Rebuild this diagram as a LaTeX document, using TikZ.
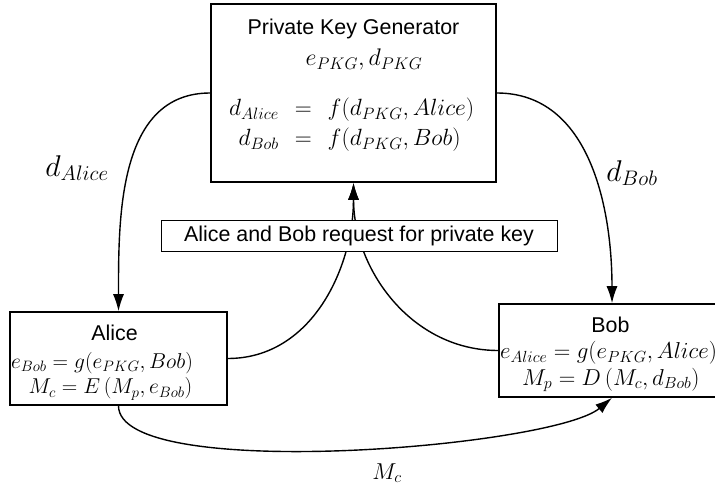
\RequirePackage{fix-cm}
\documentclass[tikz,border=0pt]{standalone}
\usepackage{fontspec}
\setmainfont{Liberation Sans}
\usetikzlibrary{arrows.meta}
\tikzset{
  box/.style={draw, line width=1.6pt, inner sep=0pt},
  reqbox/.style={draw, fill=white, line width=0.9pt, inner sep=0pt, minimum width=396pt, minimum height=31pt},
  txt/.style={inner sep=0pt, font=\fontsize{21.4}{25}\selectfont},
  mtxt/.style={inner sep=0pt, font=\fontsize{21.5}{25}\selectfont},
  bmtxt/.style={inner sep=0pt, font=\fontsize{23}{27}\selectfont},
  pmtxt/.style={inner sep=0pt, font=\fontsize{24}{30}\selectfont},
  biglbl/.style={inner sep=0pt, font=\fontsize{30}{34}\selectfont},
  conn/.style={line width=1.4pt, -{Latex[length=17pt,width=11pt]}}
}
\begin{document}
\begin{tikzpicture}[x=1pt,y=1pt]
\useasboundingbox (0,0) rectangle (715,487);
% boxes
\node[box, minimum width=285pt, minimum height=178pt] (pkg) at (353.5,394) {};
\node[box, minimum width=217pt, minimum height=93pt] (alice) at (118.5,128.5) {};
\node[box, minimum width=226pt, minimum height=93pt] (bob) at (612,136.5) {};
% texts in PKG
\node[txt] (pkgtitle) at (353.5,458) {Private Key Generator};
\node[pmtxt] (pkgkeys) at (364,427) {$e_{PKG},d_{PKG}$};
\node[pmtxt, font=\fontsize{23.5}{30}\selectfont, anchor=west] (pkgeq) at (229,362) {$\setlength{\arraycolsep}{8pt}\begin{array}{@{}rcl@{}} d_{Alice} & = & f(d_{PKG},Alice)\\ d_{Bob} & = & f(d_{PKG},Bob)\end{array}$};
% texts in Alice
\node[txt] (alicetitle) at (114.5,154) {Alice};
\node[mtxt, anchor=west] (aliceeq1) at (11,124) {$e_{Bob}=g(e_{PKG},Bob)$};
\node[mtxt, anchor=west] (aliceeq2) at (28.5,98) {$M_c=E\left(M_p,e_{Bob}\right)$};
% texts in Bob
\node[txt] (bobtitle) at (610.5,162) {Bob};
\node[bmtxt, anchor=west] (bobeq1) at (500,134) {$e_{Alice}=g(e_{PKG},Alice)$};
\node[bmtxt, anchor=west] (bobeq2) at (522,107) {$M_p=D\left(M_c,d_{Bob}\right)$};
% connectors
\draw[conn] (pkg.west) to[out=180,in=90] (alice.north);
\draw[conn] (pkg.east) to[out=0,in=90] (bob.north);
\draw[conn] (alice.east) to[out=0,in=-90] (pkg.south);
\draw[conn] (bob.west) to[out=180,in=-90] (pkg.south);
\draw[conn] (alice.south) to[out=-90,in=-140,looseness=0.4] (bob.south);
% request box on top
\node[reqbox, txt] (req) at (359,251.5) {Alice and Bob request for private key};
% labels
\node[biglbl] (lalice) at (77,319) {$d_{Alice}$};
\node[biglbl] (lbob) at (632,314) {$d_{Bob}$};
\node[mtxt, font=\fontsize{23}{27}\selectfont] (lmc) at (387,14) {$M_c$};
\end{tikzpicture}
\end{document}
